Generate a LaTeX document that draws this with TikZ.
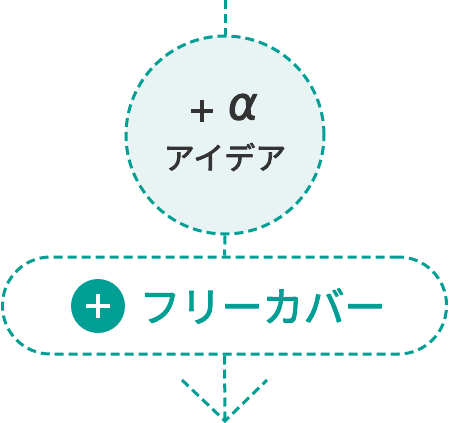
\documentclass[tikz,border=0pt]{standalone}
\usepackage{fontspec}
\setmainfont{Noto Sans CJK JP}
\newfontfamily\alphafont{DejaVu Sans}[FakeSlant=0.15]
\usetikzlibrary{arrows.meta}
\definecolor{teal1}{HTML}{009E93}
\definecolor{lightfill}{HTML}{E8F4F3}
\definecolor{darktext}{HTML}{333333}
\newcommand\heavytext[2]{\special{pdf:literal direct 2 Tr #1 w 1 j}#2\special{pdf:literal direct 0 Tr}}
\begin{document}
\begin{tikzpicture}[x=1pt,y=-1pt,
  dashline/.style={draw=teal1,line width=3pt,dash pattern=on 9pt off 5pt},
  idea/.style={circle,dashline,fill=lightfill,minimum size=198pt,inner sep=0pt},
  pill/.style={rounded corners=48pt,dashline,minimum width=444pt,minimum height=97pt},
  plusbar/.style={draw=white,line width=4pt},
  darkbar/.style={draw=darktext,line width=4pt},
]
\useasboundingbox (0,0) rectangle (450,423);
\coordinate (top) at (225,0);
\node[idea] (circ) at (225,135) {};
\coordinate (pcen) at (201.5,111);
\draw[darkbar] ([xshift=-11pt]pcen) -- ([xshift=11pt]pcen);
\draw[darkbar] ([yshift=-11pt]pcen) -- ([yshift=11pt]pcen);
\node[text=darktext,font=\fontsize{46}{46}\selectfont\alphafont] (alpha) at (241,107) {\heavytext{1}{α}};
\node[text=darktext,font=\fontsize{31}{31}\selectfont] (ideatext) at (225,157) {\heavytext{0.8}{アイデア}};
\node[pill] (box) at (224.5,305.5) {};
\node[circle,fill=teal1,minimum size=54pt,inner sep=0pt] (pc) at (98,306) {};
\draw[plusbar] ([xshift=-12pt]pc.center) -- ([xshift=12pt]pc.center);
\draw[plusbar] ([yshift=-12pt]pc.center) -- ([yshift=12pt]pc.center);
\node[text=teal1,anchor=west,font=\fontsize{41}{41}\selectfont] (label) at (136,306) {\heavytext{1}{フリーカバー}};
\coordinate (tip) at (225,421);
\coordinate (al) at (182,380);
\coordinate (ar) at (267,380);
\draw[dashline] (top) -- (circ.north);
\draw[dashline] (circ.south) -- (box.north);
\draw[dashline] (box.south) -- (tip);
\draw[dashline] (al) -- (tip) -- (ar);
\end{tikzpicture}
\end{document}
